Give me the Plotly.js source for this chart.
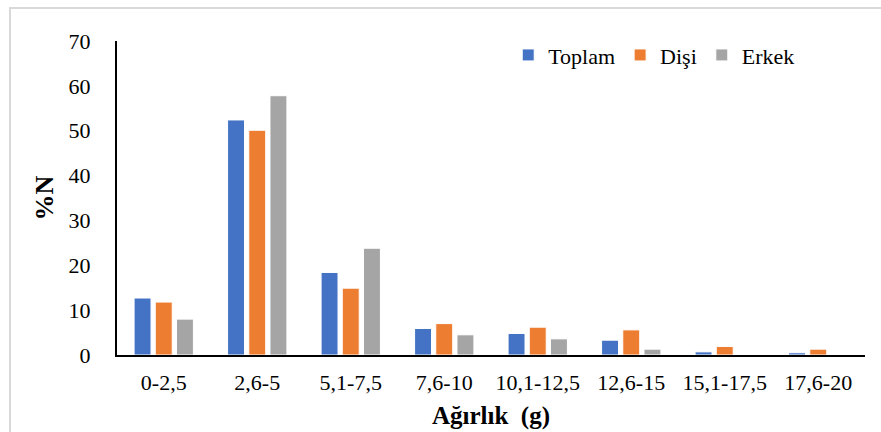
<!DOCTYPE html>
<html>
<head>
<meta charset="utf-8">
<script src="https://cdn.plot.ly/plotly-3.0.1.min.js"></script>
<style>
  body { margin: 0; background: #fff; }
  #wrap { position: relative; width: 881px; height: 432px; }
  #chart { width: 881px; height: 432px; }
  #frame { position: absolute; left: 9px; top: 7px; width: 880px; height: 440px; border: 2px solid #d9d9d9; box-sizing: border-box; pointer-events: none; }
</style>
</head>
<body>
<div id="wrap">
  <div id="chart"></div>
  <div id="frame"></div>
</div>
<script>
const categories = ["0-2,5", "2,6-5", "5,1-7,5", "7,6-10", "10,1-12,5", "12,6-15", "15,1-17,5", "17,6-20"];
const toplam = [12.7, 52.4, 18.4, 5.9, 4.8, 3.3, 0.7, 0.5];
const disi   = [11.8, 50.1, 14.9, 7.0, 6.2, 5.6, 1.9, 1.3];
const erkek  = [8.0, 57.8, 23.8, 4.5, 3.6, 1.3, 0, 0];
const seriesNames = ["Toplam", "Dişi", "Erkek"];
const colors = ["#4472C4", "#ED7D31", "#A5A5A5"];
const yTicks = [0, 10, 20, 30, 40, 50, 60, 70];

const font = "Liberation Serif, Times New Roman, serif";
const data = [toplam, disi, erkek].map((vals, i) => ({
  type: "bar",
  name: seriesNames[i],
  x: categories,
  y: vals,
  marker: { color: colors[i], line: { color: "#ffffff", width: 1 } },
  hoverinfo: "x+y+name"
}));

const layout = {
  width: 881, height: 432,
  margin: { l: 117, r: 16, t: 41, b: 77 },
  paper_bgcolor: "#ffffff", plot_bgcolor: "#ffffff",
  font: { family: font, size: 22, color: "#000" },
  barmode: "group",
  bargap: 0.32,
  bargroupgap: 0.2,
  showlegend: true,
  legend: {
    orientation: "h", x: 0.523, xanchor: "left", y: 0.955, yanchor: "middle",
    font: { family: font, size: 22, color: "#000" },
    bgcolor: "rgba(0,0,0,0)", itemwidth: 30, traceorder: "normal"
  },
  xaxis: {
    type: "category",
    showline: true, linecolor: "#000", linewidth: 2,
    ticks: "", showgrid: false, zeroline: false,
    tickfont: { family: font, size: 22, color: "#000" },
    ticklabelstandoff: 7,
    title: { text: "Ağırlık  (g)", font: { family: font, size: 25, color: "#000", weight: "bold" }, standoff: 12 }
  },
  yaxis: {
    range: [0, 70], tickvals: yTicks, ticktext: yTicks.map(String),
    showline: true, linecolor: "#000", linewidth: 2,
    ticks: "", showgrid: false, zeroline: false,
    tickfont: { family: font, size: 22, color: "#000" },
    ticklabelstandoff: 20,
    title: { text: "%N", font: { family: font, size: 26, color: "#000", weight: "bold" }, standoff: 7 }
  }
};

Plotly.newPlot("chart", data, layout, { displayModeBar: false, staticPlot: true });
</script>
</body>
</html>
